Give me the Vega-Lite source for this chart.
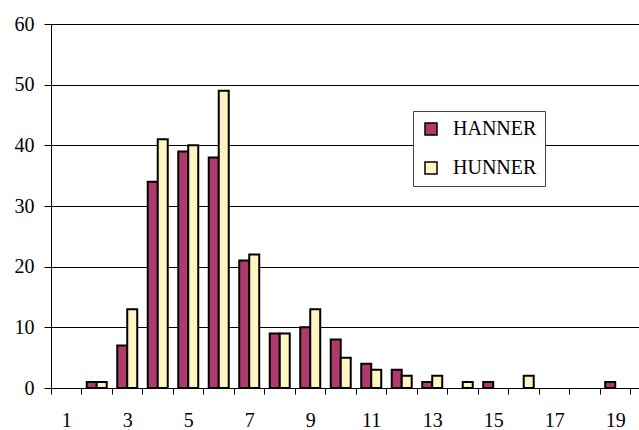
{
  "$schema": "https://vega.github.io/schema/vega-lite/v6.json",
  "width": 588,
  "height": 364,
  "autosize": "none",
  "padding": {"left": 51, "top": 24, "right": 0, "bottom": 42},
  "background": "white",
  "config": {
    "view": {"stroke": null},
    "font": "Liberation Serif"
  },
  "data": {
    "values": [
      {"x": 1, "series": "HANNER", "v": 0}, {"x": 1, "series": "HUNNER", "v": 0},
      {"x": 2, "series": "HANNER", "v": 1}, {"x": 2, "series": "HUNNER", "v": 1},
      {"x": 3, "series": "HANNER", "v": 7}, {"x": 3, "series": "HUNNER", "v": 13},
      {"x": 4, "series": "HANNER", "v": 34}, {"x": 4, "series": "HUNNER", "v": 41},
      {"x": 5, "series": "HANNER", "v": 39}, {"x": 5, "series": "HUNNER", "v": 40},
      {"x": 6, "series": "HANNER", "v": 38}, {"x": 6, "series": "HUNNER", "v": 49},
      {"x": 7, "series": "HANNER", "v": 21}, {"x": 7, "series": "HUNNER", "v": 22},
      {"x": 8, "series": "HANNER", "v": 9}, {"x": 8, "series": "HUNNER", "v": 9},
      {"x": 9, "series": "HANNER", "v": 10}, {"x": 9, "series": "HUNNER", "v": 13},
      {"x": 10, "series": "HANNER", "v": 8}, {"x": 10, "series": "HUNNER", "v": 5},
      {"x": 11, "series": "HANNER", "v": 4}, {"x": 11, "series": "HUNNER", "v": 3},
      {"x": 12, "series": "HANNER", "v": 3}, {"x": 12, "series": "HUNNER", "v": 2},
      {"x": 13, "series": "HANNER", "v": 1}, {"x": 13, "series": "HUNNER", "v": 2},
      {"x": 14, "series": "HANNER", "v": 0}, {"x": 14, "series": "HUNNER", "v": 1},
      {"x": 15, "series": "HANNER", "v": 1}, {"x": 15, "series": "HUNNER", "v": 0},
      {"x": 16, "series": "HANNER", "v": 0}, {"x": 16, "series": "HUNNER", "v": 2},
      {"x": 17, "series": "HANNER", "v": 0}, {"x": 17, "series": "HUNNER", "v": 0},
      {"x": 18, "series": "HANNER", "v": 0}, {"x": 18, "series": "HUNNER", "v": 0},
      {"x": 19, "series": "HANNER", "v": 1}, {"x": 19, "series": "HUNNER", "v": 0}
    ]
  },
  "transform": [{"filter": "datum.v > 0"}],
  "mark": {"type": "bar", "stroke": "black", "strokeWidth": 2},
  "encoding": {
    "x": {
      "field": "x", "type": "ordinal",
      "scale": {"domain": [1,2,3,4,5,6,7,8,9,10,11,12,13,14,15,16,17,18,19], "paddingInner": 0, "paddingOuter": 0.14, "align": 0},
      "axis": {
        "title": null, "labelAngle": 0, "tickBand": "extent", "tickSize": 6, "labelPadding": 16,
        "labelFont": "Liberation Serif", "labelFontSize": 20, "labelColor": "black",
        "domainColor": "black", "tickColor": "black",
        "labelExpr": "toNumber(datum.value) % 2 == 1 ? datum.label : ''",
        "grid": false, "domainWidth": 1
      }
    },
    "xOffset": {
      "field": "series", "type": "nominal",
      "scale": {"domain": ["HANNER", "HUNNER"], "paddingInner": 0, "paddingOuter": 0.525}
    },
    "y": {
      "field": "v", "type": "quantitative",
      "scale": {"domain": [0, 60], "nice": false},
      "axis": {"title": null, "values": [0,10,20,30,40,50,60], "tickSize": 7, "labelPadding": 10,
        "labelFont": "Liberation Serif", "labelFontSize": 20, "labelColor": "black",
        "domainColor": "black", "tickColor": "black", "gridColor": "black", "gridOpacity": 1,
        "grid": true, "gridWidth": 1, "domainWidth": 1}
    },
    "fill": {
      "field": "series", "type": "nominal",
      "scale": {"domain": ["HANNER", "HUNNER"], "range": ["#B03A6E", "#FFF5C2"]},
      "legend": {
        "title": null, "orient": "none", "legendX": 362, "legendY": 87,
        "fillColor": "white", "strokeColor": "#444", "padding": 8,
        "symbolType": "square", "symbolSize": 144, "symbolStrokeColor": "black", "symbolStrokeWidth": 1.5,
        "labelFont": "Liberation Serif", "labelFontSize": 20, "labelColor": "black", "labelOffset": 12, "rowPadding": 19
      }
    }
  }
}
